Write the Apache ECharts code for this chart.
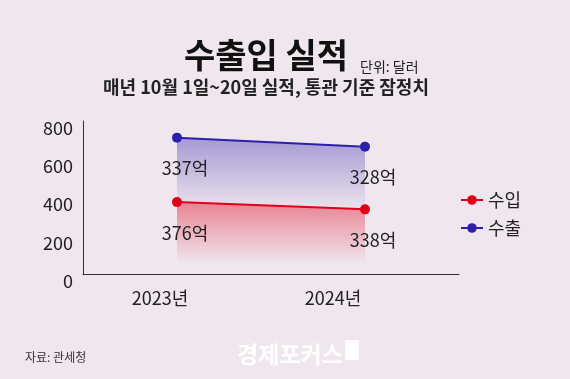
<!DOCTYPE html>
<html><head><meta charset="utf-8">
<script src="https://cdn.jsdelivr.net/npm/echarts@6/dist/echarts.min.js"></script>
<style>html,body{margin:0;padding:0;background:#efe6ee;}#c{width:570px;height:379px;}</style>
</head><body><div id="c"></div>
<script>
const categories = ['2023년', '2024년'];
const importValues = [376, 338];
const exportValues = [337, 328];
const yTicks = [0, 200, 400, 600, 800];
const seriesNames = ['수입', '수출'];

const FONT = '"Noto Sans CJK KR", "Noto Sans", sans-serif';
const chart = echarts.init(document.getElementById('c'), null, {renderer: 'canvas'});
const RED = '#e0001a', BLUE = '#2d1faa';
const catPad = {'2023년': 34, '2024년': 64};
chart.setOption({
  backgroundColor: '#efe6ee',
  animation: false,
  textStyle: {fontFamily: FONT},
  title: [
    {text: '수출입 실적', left: 261, top: 33, textAlign: 'center',
     textStyle: {fontSize: 34, fontWeight: 'bold', color: '#111', fontFamily: FONT}},
    {text: '단위: 달러', left: 355, top: 55,
     textStyle: {fontSize: 14, fontWeight: 'normal', color: '#222', fontFamily: FONT}},
    {text: '매년 10월 1일~20일 실적, 통관 기준 잠정치', left: 261, top: 73, textAlign: 'center',
     textStyle: {fontSize: 18, fontWeight: 'bold', color: '#222', fontFamily: FONT}},
    {text: '자료: 관세청', left: 20, top: 346,
     textStyle: {fontSize: 12, fontWeight: 'normal', color: '#333', fontFamily: FONT}},
    {text: '경제포커스', left: 232, top: 338,
     textStyle: {fontSize: 23, fontWeight: 'bold', color: '#ffffff', fontFamily: FONT}}
  ],
  graphic: [{type: 'rect', shape: {x: 345, y: 340, width: 14, height: 20}, style: {fill: '#ffffff'}}],
  legend: {
    data: seriesNames, orient: 'vertical', left: 455, top: 186, itemGap: 10,
    itemWidth: 22, itemHeight: 12,
    textStyle: {fontSize: 18, color: '#222', fontFamily: FONT}
  },
  grid: {left: 83, right: 111, top: 121, bottom: 105, containLabel: false},
  xAxis: {
    type: 'category', data: categories, boundaryGap: true,
    axisLine: {lineStyle: {color: '#333', width: 1}},
    axisTick: {show: false},
    axisLabel: {margin: 15, fontSize: 18, color: '#222', fontFamily: FONT,
      formatter: v => '{' + (v === '2023년' ? 'a' : 'b') + '|' + v + '}',
      rich: {a: {fontSize: 18, color: '#222', padding: [0, catPad['2023년'], 0, 0]},
             b: {fontSize: 18, color: '#222', padding: [0, catPad['2024년'], 0, 0]}}}
  },
  yAxis: {
    type: 'value', min: yTicks[0], max: yTicks[yTicks.length - 1], interval: 200,
    axisLine: {show: true, lineStyle: {color: '#333', width: 1}},
    axisTick: {show: false},
    splitLine: {show: false},
    axisLabel: {margin: 10, fontSize: 18, color: '#222', fontFamily: FONT,
      formatter: v => '{v|' + v + '}',
      rich: {v: {fontSize: 18, color: '#222', padding: [14, 0, 0, 0]}}}
  },
  series: [
    {name: seriesNames[0], type: 'line', stack: 'total', data: importValues,
     symbol: 'circle', symbolSize: 10,
     itemStyle: {color: RED}, lineStyle: {color: RED, width: 2},
     areaStyle: {color: new echarts.graphic.LinearGradient(0, 0, 0, 1, [
       {offset: 0, color: 'rgba(224,0,26,0.62)'}, {offset: 0.85, color: 'rgba(224,0,26,0.0)'}])},
     label: {show: true, position: 'bottom', distance: 17, offset: [8, 0],
       formatter: p => p.value + '억', fontSize: 18, color: '#222', fontFamily: FONT}},
    {name: seriesNames[1], type: 'line', stack: 'total', data: exportValues,
     symbol: 'circle', symbolSize: 10,
     itemStyle: {color: BLUE}, lineStyle: {color: BLUE, width: 2},
     areaStyle: {color: new echarts.graphic.LinearGradient(0, 0, 0, 1, [
       {offset: 0, color: 'rgba(45,31,170,0.55)'}, {offset: 1, color: 'rgba(45,31,170,0.02)'}])},
     label: {show: true, position: 'bottom', distance: 17, offset: [8, 0],
       formatter: p => p.value + '억', fontSize: 18, color: '#222', fontFamily: FONT}}
  ]
});
</script></body></html>
